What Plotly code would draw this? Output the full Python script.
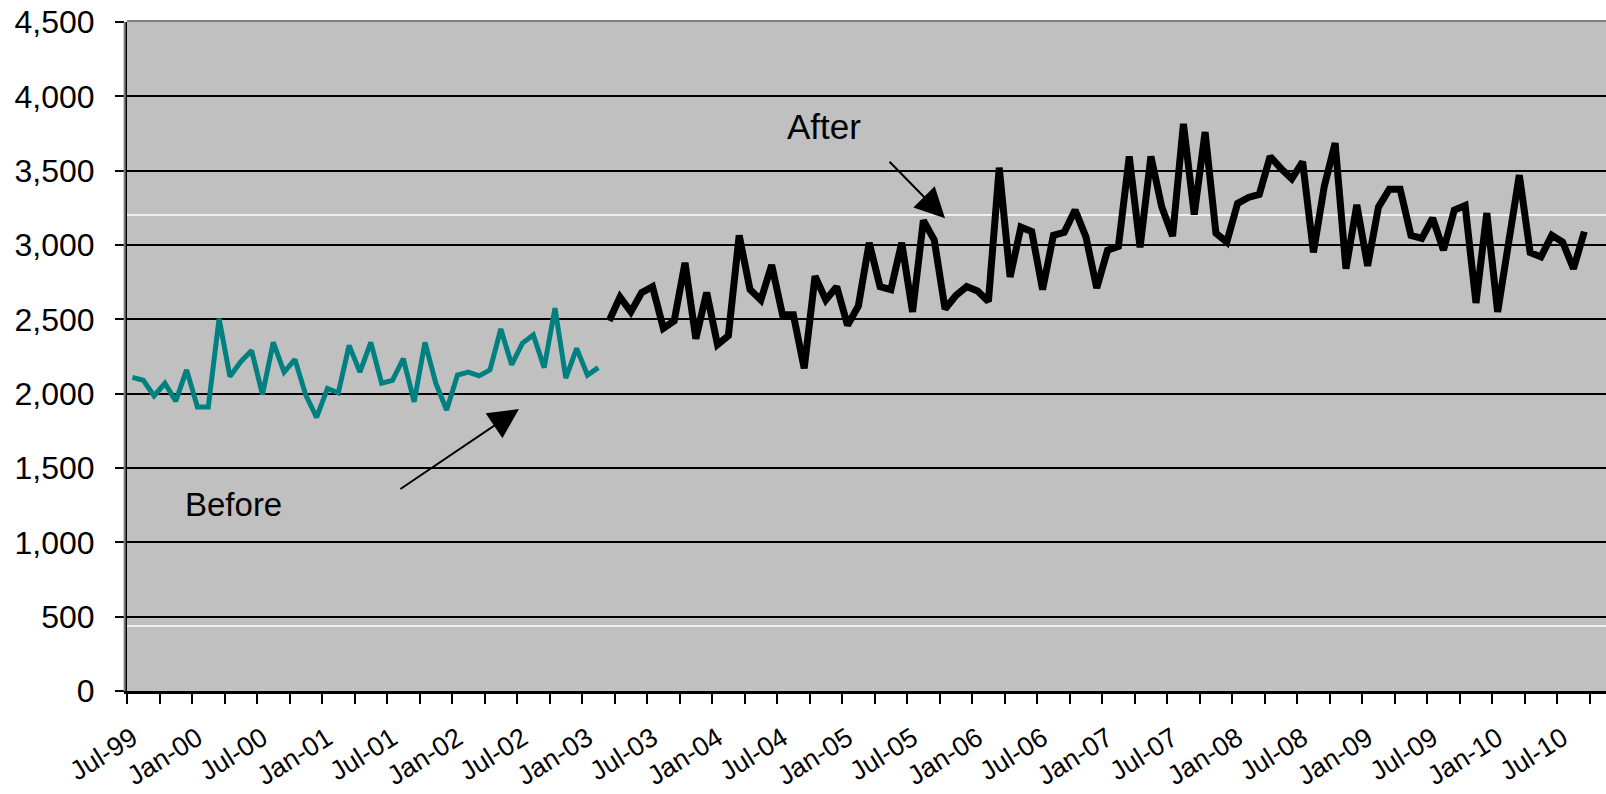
import pandas as pd
import plotly.graph_objects as go

# ---- data ----
months = pd.date_range("1999-07-01", "2010-09-01", freq="MS")
month_labels = [d.strftime("%b-%y") for d in months]

before_values = [2110, 2090, 1985, 2070, 1950, 2160, 1910, 1910, 2505, 2115, 2215, 2290,
                 1995, 2345, 2145, 2230, 1990, 1840, 2035, 2005, 2325, 2145, 2345, 2070,
                 2090, 2235, 1945, 2345, 2070, 1890, 2125, 2145, 2120, 2160, 2435, 2195,
                 2340, 2395, 2175, 2575, 2105, 2305, 2125, 2175]
after_values = [2490, 2650, 2550, 2680, 2720, 2440, 2490, 2880, 2370, 2680, 2330, 2390,
                3065, 2700, 2630, 2865, 2530, 2530, 2170, 2790, 2630, 2720, 2460, 2590,
                3015, 2720, 2700, 3015, 2550, 3165, 3035, 2570, 2660, 2720, 2690, 2620,
                3520, 2785, 3120, 3090, 2700, 3065, 3085, 3235, 3055, 2710, 2965, 2990,
                3595, 2985, 3595, 3255, 3060, 3815, 3205, 3760, 3080, 3020, 3280, 3320,
                3340, 3595, 3515, 3445, 3560, 2950, 3395, 3685, 2840, 3270, 2860, 3255,
                3375, 3375, 3065, 3045, 3180, 2965, 3235, 3265, 2610, 3215, 2550, 2990,
                3470, 2950, 2920, 3065, 3020, 2840, 3090]

y_ticks = list(range(0, 4501, 500))

# ---- positions (category index) ----
idx = list(range(len(month_labels)))
before_x = idx[:len(before_values)]
after_x = idx[len(before_values):len(before_values) + len(after_values)]

label_pos = [i for i, lab in enumerate(month_labels) if lab[:3] in ("Jan", "Jul")]
label_txt = [month_labels[i] for i in label_pos]
minor_pos = [i - 0.5 for i in range(0, len(month_labels) + 3, 3)]

FONT = "Liberation Sans, Arial, sans-serif"

fig = go.Figure()
fig.add_trace(go.Scatter(x=before_x, y=before_values, mode="lines",
                         line=dict(color="#008080", width=5), name="Before",
                         hoverinfo="skip"))
fig.add_trace(go.Scatter(x=after_x, y=after_values, mode="lines",
                         line=dict(color="#000000", width=7), name="After",
                         hoverinfo="skip"))

fig.update_layout(
    width=1606, height=794, autosize=False,
    margin=dict(l=127, r=0, t=22, b=103, pad=0),
    paper_bgcolor="white", plot_bgcolor="#C0C0C0",
    showlegend=False,
    font=dict(family=FONT, color="black"),
)

fig.update_xaxes(
    range=[-0.5, 136.0], automargin=False,
    showgrid=False, zeroline=False,
    showline=True, linecolor="black", linewidth=3,
    tickmode="array", tickvals=label_pos, ticktext=label_txt,
    ticks="outside", ticklen=10, tickcolor="rgba(0,0,0,0)",
    tickangle=-32, tickfont=dict(size=27, family=FONT, color="black"),
    ticklabelstandoff=8,
    minor=dict(tickmode="array", tickvals=minor_pos, ticks="outside",
               ticklen=10, tickwidth=2, tickcolor="black", showgrid=False),
)
fig.update_yaxes(
    range=[0, 4500], automargin=False,
    tickmode="array", tickvals=y_ticks, tickformat=",",
    showgrid=True, gridcolor="black", gridwidth=2,
    zeroline=False,
    showline=True, linecolor="black", linewidth=3,
    ticks="outside", ticklen=9, tickwidth=2, tickcolor="black",
    tickfont=dict(size=32, family=FONT, color="black"),
    ticklabelstandoff=14,
)

# plot-area border and screenshot seams
fig.add_shape(type="line", xref="paper", yref="paper", x0=0, x1=1, y0=1.0015, y1=1.0015,
              line=dict(color="#808080", width=2), layer="above")
fig.add_shape(type="line", xref="paper", yref="paper", x0=-0.0016, x1=-0.0016, y0=0, y1=1,
              line=dict(color="#808080", width=2), layer="above")
for yy in (0.7115, 0.0972):
    fig.add_shape(type="line", xref="paper", yref="paper", x0=0, x1=1, y0=yy, y1=yy,
                  line=dict(color="white", width=1.5), layer="between")

# labels and arrows
fig.add_annotation(xref="paper", yref="paper", x=0.4713, y=0.8445, text="After",
                   showarrow=False, font=dict(size=35, family=FONT, color="black"),
                   xanchor="center", yanchor="middle")
fig.add_annotation(xref="paper", yref="paper", x=0.0720, y=0.2795, text="Before",
                   showarrow=False, font=dict(size=33, family=FONT, color="black"),
                   xanchor="center", yanchor="middle")
fig.add_annotation(xref="paper", yref="paper", x=0.5531, y=0.7066, text="",
                   showarrow=True, ax=-57, ay=-58, arrowhead=2, arrowsize=3,
                   arrowwidth=2, arrowcolor="black", standoff=0, startstandoff=0)
fig.add_annotation(xref="paper", yref="paper", x=0.2650, y=0.4215, text="",
                   showarrow=True, ax=-120, ay=81, arrowhead=2, arrowsize=3,
                   arrowwidth=2, arrowcolor="black", standoff=0, startstandoff=0)

fig.write_html("out.html", config={"displayModeBar": False},
               post_script="document.body.style.margin='0';")
